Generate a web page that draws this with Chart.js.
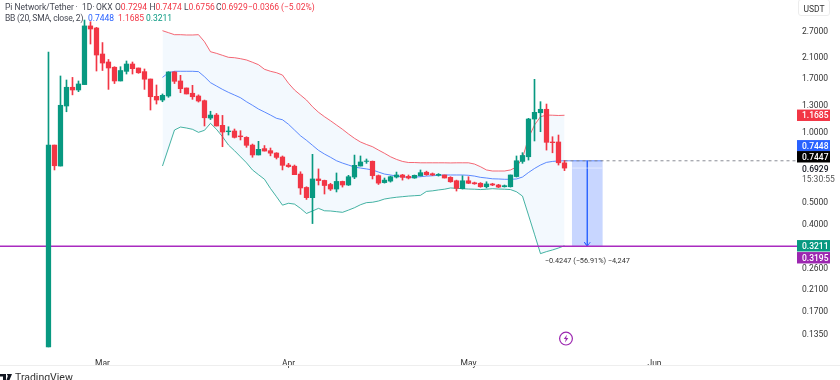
<!DOCTYPE html>
<html>
<head>
<meta charset="utf-8">
<title>Pi Network/Tether</title>
<script src="https://cdn.jsdelivr.net/npm/chart.js@4/dist/chart.umd.js"></script>
<style>
    html, body { margin: 0; padding: 0; background: #fff; overflow: hidden; width: 840px; height: 380px; }
    #wrap { position: relative; width: 840px; height: 380px; overflow: hidden; font-family: Roboto, sans-serif; filter: blur(0.3px); }
    canvas { position: absolute; left: 0; top: 0; }
    .t { position: absolute; font-size: 8.5px; line-height: 11px; white-space: pre; color: #434651; }
    .red { color: #f23645; }
    .blue { color: #2962ff; }
    .teal { color: #089981; }
    #unit { position: absolute; left: 798px; top: -1px; width: 32px; height: 17px; box-sizing: border-box; border: 1px solid #ececec; border-radius: 3px; text-align: center; font-size: 8.5px; line-height: 18px; color: #333; }
    #base { position: absolute; left: 0; top: 365px; width: 840px; height: 1px; background: #eeeeee; }
    #brand { position: absolute; left: 15px; top: 372px; font-size: 10.5px; line-height: 12px; color: #333; }
    #logo { position: absolute; left: 0; top: 374px; }
    #bolt { position: absolute; left: 558px; top: 330px; }
</style>
</head>
<body>
<div id="wrap">
    <canvas id="chart" width="840" height="380"></canvas>
    <div class="t" style="left:5px;top:1.5px">Pi Network/Tether</div>
    <div class="t" style="left:75.5px;top:1.5px">·</div>
    <div class="t" style="left:82px;top:1.5px">1D</div>
    <div class="t" style="left:92.5px;top:1.5px">·</div>
    <div class="t" style="left:96px;top:1.5px">OKX</div>
    <div class="t" style="left:115px;top:1.5px">O<span class="red">0.7294</span></div>
    <div class="t" style="left:149.5px;top:1.5px">H<span class="red">0.7474</span></div>
    <div class="t" style="left:184px;top:1.5px">L<span class="red">0.6756</span></div>
    <div class="t" style="left:216px;top:1.5px">C<span class="red">0.6929</span></div>
    <div class="t red" style="left:248px;top:1.5px">−0.0366 (−5.02%)</div>
    <div class="t" style="left:5px;top:13px;letter-spacing:-0.2px">BB (20, SMA, close, 2)</div>
    <div class="t blue" style="left:88px;top:13px">0.7448</div>
    <div class="t red" style="left:118px;top:13px">1.1685</div>
    <div class="t teal" style="left:146px;top:13px">0.3211</div>
    <div id="unit">USDT</div>
    <div id="base"></div>
    <svg id="logo" width="13" height="8"><path d="M0 0h6v6H3V2.5H0zM8.5 0H12L9.5 6H6.5z M7 0.5a1.1 1.1 0 1 1 0 .1z" fill="#131722"/></svg>
    <div id="brand">TradingView</div>
    <svg id="bolt" width="16" height="17"><circle cx="8" cy="8.6" r="6.4" fill="#fff" stroke="#9c27b0" stroke-width="1.2"/><path d="M8.9 4.8 5.8 9h2l-.8 3.4L10.3 8H8.2z" fill="#9c27b0"/></svg>
</div>
<script>
// daily candles, index 0 is the first OKX session (20 Feb)
const open = [0.118, 0.870, 0.707, 1.281, 1.542, 1.501, 1.583, 2.83, 2.772, 2.143,
    1.98, 1.88, 1.641, 1.805, 1.941, 1.866, 1.80, 1.673, 1.41, 1.359,
    1.414, 1.794, 1.641, 1.531, 1.453, 1.414, 1.35, 1.137, 1.171, 1.058,
    0.993, 1.00, 0.952, 0.939, 0.870, 0.789, 0.84, 0.823, 0.804, 0.773,
    0.714, 0.706, 0.653, 0.572, 0.517, 0.622, 0.613, 0.589, 0.563, 0.607,
    0.586, 0.634, 0.707, 0.74, 0.741, 0.643, 0.60, 0.609, 0.634, 0.647,
    0.638, 0.628, 0.642, 0.665, 0.655, 0.645, 0.647, 0.632, 0.611, 0.565,
    0.611, 0.599, 0.596, 0.576, 0.592, 0.586, 0.576, 0.576, 0.637, 0.74,
    0.775, 1.126, 1.198, 1.24, 0.897, 0.897, 0.7294];
const high = [2.186, 0.870, 1.724, 1.657, 1.70, 1.641, 3.00, 2.95, 2.79, 2.40,
    2.03, 1.89, 1.89, 2.00, 1.98, 1.866, 1.848, 1.673, 1.577, 1.443,
    1.80, 1.80, 1.735, 1.531, 1.572, 1.43, 1.359, 1.216, 1.19, 1.167,
    1.043, 1.02, 1.003, 0.945, 0.879, 0.903, 0.866, 0.845, 0.807, 0.781,
    0.726, 0.714, 0.668, 0.576, 0.794, 0.687, 0.615, 0.596, 0.66, 0.609,
    0.645, 0.788, 0.781, 0.758, 0.743, 0.647, 0.628, 0.64, 0.666, 0.651,
    0.647, 0.647, 0.68, 0.672, 0.66, 0.656, 0.647, 0.636, 0.615, 0.642,
    0.636, 0.603, 0.60, 0.605, 0.596, 0.59, 0.586, 0.647, 0.781, 0.807,
    1.134, 1.668, 1.337, 1.306, 0.945, 0.961, 0.7474];
const low = [0.118, 0.680, 0.707, 1.21, 1.43, 1.476, 1.583, 2.366, 1.811, 1.82,
    1.51, 1.60, 1.641, 1.758, 1.758, 1.77, 1.51, 1.231, 1.306, 1.336,
    1.396, 1.60, 1.461, 1.443, 1.368, 1.332, 1.051, 1.12, 1.051, 0.856,
    0.961, 0.933, 0.915, 0.851, 0.771, 0.789, 0.82, 0.782, 0.758, 0.68,
    0.698, 0.649, 0.534, 0.508, 0.40, 0.586, 0.536, 0.555, 0.547, 0.574,
    0.583, 0.624, 0.707, 0.726, 0.622, 0.589, 0.597, 0.603, 0.628, 0.615,
    0.622, 0.626, 0.64, 0.645, 0.643, 0.64, 0.628, 0.602, 0.552, 0.563,
    0.594, 0.59, 0.573, 0.569, 0.582, 0.571, 0.574, 0.574, 0.634, 0.726,
    0.75, 0.906, 0.993, 0.828, 0.806, 0.714, 0.6756];
const close = [0.870, 0.709, 1.29, 1.542, 1.501, 1.593, 2.83, 2.745, 2.122, 1.96,
    1.866, 1.641, 1.82, 1.941, 1.853, 1.78, 1.67, 1.404, 1.359, 1.424,
    1.794, 1.636, 1.52, 1.443, 1.404, 1.346, 1.14, 1.171, 1.051, 0.99,
    1.00, 0.939, 0.945, 0.868, 0.789, 0.834, 0.82, 0.803, 0.77, 0.712,
    0.703, 0.649, 0.569, 0.517, 0.622, 0.612, 0.583, 0.563, 0.607, 0.586,
    0.636, 0.712, 0.736, 0.743, 0.643, 0.597, 0.615, 0.636, 0.647, 0.632,
    0.628, 0.645, 0.662, 0.649, 0.647, 0.651, 0.628, 0.605, 0.567, 0.611,
    0.596, 0.593, 0.576, 0.592, 0.586, 0.574, 0.582, 0.647, 0.745, 0.785,
    1.126, 1.203, 1.24, 0.894, 0.891, 0.73, 0.6929];

// Bollinger bands, these start at candle 19
const bbStart = 19;
const bbUpper = [2.70, 2.647, 2.595, 2.595, 2.587, 2.587, 2.595, 2.42, 2.192, 2.157,
    2.115, 2.074, 2.066, 2.046, 2.02, 1.975, 1.928, 1.842, 1.806, 1.781,
    1.74, 1.604, 1.501, 1.428, 1.359, 1.272, 1.204, 1.152, 1.107, 1.061,
    1.017, 0.971, 0.93, 0.897, 0.875, 0.856, 0.828, 0.802, 0.775, 0.755,
    0.74, 0.732, 0.732, 0.73, 0.73, 0.73, 0.73, 0.73, 0.729, 0.73,
    0.73, 0.73, 0.721, 0.702, 0.68, 0.673, 0.673, 0.673, 0.68, 0.70,
    0.765, 0.933, 1.061, 1.152, 1.171, 1.169, 1.166, 1.1685];
const bbBasis = [1.70, 1.781, 1.806, 1.806, 1.806, 1.806, 1.80, 1.712, 1.614, 1.561,
    1.51, 1.466, 1.428, 1.39, 1.336, 1.29, 1.243, 1.207, 1.171, 1.134,
    1.118, 1.069, 1.01, 0.954, 0.912, 0.868, 0.826, 0.796, 0.771, 0.745,
    0.728, 0.714, 0.70, 0.693, 0.687, 0.68, 0.666, 0.653, 0.647, 0.64,
    0.636, 0.632, 0.634, 0.636, 0.64, 0.642, 0.645, 0.647, 0.647, 0.647,
    0.647, 0.645, 0.64, 0.632, 0.628, 0.623, 0.622, 0.62, 0.62, 0.622,
    0.634, 0.663, 0.69, 0.714, 0.733, 0.74, 0.7435, 0.7448];
const bbLower = [0.707, 0.845, 1.01, 1.04, 1.03, 1.017, 0.987, 1.007, 1.079, 1.017,
    0.945, 0.870, 0.823, 0.775, 0.73, 0.68, 0.649, 0.62, 0.566, 0.522,
    0.48, 0.489, 0.485, 0.465, 0.442, 0.453, 0.465, 0.454, 0.453, 0.45,
    0.447, 0.457, 0.468, 0.482, 0.492, 0.494, 0.50, 0.51, 0.515, 0.519,
    0.522, 0.525, 0.527, 0.529, 0.55, 0.553, 0.558, 0.562, 0.569, 0.567,
    0.565, 0.563, 0.562, 0.56, 0.562, 0.565, 0.563, 0.562, 0.56, 0.548,
    0.525, 0.435, 0.36, 0.297, 0.303, 0.308, 0.314, 0.3211];

// axis labels
const priceTicks = [2.7, 2.1, 1.7, 1.3, 1.0, 0.5, 0.4, 0.26, 0.21, 0.17, 0.135];
const monthTicks = [9, 40, 70, 101];
const monthLabels = ['Mar', 'Apr', 'May', 'Jun'];

// price tool and lines
const supportPrice = 0.3195;
const lastPrice = 0.7447;
const closePrice = 0.6929;
const measureDay = 89.8;
const measureEdges = [87.3, 92.3];
const measureLabel = '−0.4247 (−56.91%) −4,247';
const arrowWing = 0.333;

const tagPrices = [1.1685, 0.7448, 0.7447, 0.3211, 0.3195];
const tagColors = ['#f23645', '#2962ff', '#000000', '#089981', '#9c27b0'];
const tagNudge = [0, -15, -4, 0, 11.5]; // tags get pushed apart so they don't overlap

const UP = '#089981';
const DOWN = '#f23645';
const candleColors = close.map((c, i) => (c >= open[i] ? UP : DOWN));
const days = close.map((_, i) => i);
const FONT = 'Roboto, sans-serif';

const bandPoints = (vals) => vals.map((y, k) => ({ x: k + bbStart, y }));

function lineSet(points, color, order, extra) {
    return Object.assign({
        type: 'line',
        data: points,
        borderColor: color,
        borderWidth: 1,
        pointRadius: 0,
        tension: 0,
        fill: false,
        order
    }, extra);
}

// the axes must not eat into the plot with half a label of padding
function noPadding(scale) {
    scale.paddingTop = 0;
    scale.paddingBottom = 0;
    scale.paddingLeft = 0;
    scale.paddingRight = 0;
}

const priceTags = {
    id: 'priceTags',
    afterDraw(chart) {
        const c = chart.ctx;
        const y = chart.scales.y;
        c.save();
        c.textBaseline = 'middle';
        c.textAlign = 'left';
        c.font = `500 8.5px ${FONT}`;
        tagPrices.forEach((p, i) => {
            const py = y.getPixelForValue(p) + tagNudge[i];
            c.fillStyle = tagColors[i];
            c.fillRect(797, py - 5.7, 33, 11.4);
            c.fillStyle = '#fff';
            c.fillText(p.toFixed(4), 802, py + 1);
        });
        c.fillStyle = '#131722';
        c.fillText(closePrice.toFixed(4), 802, y.getPixelForValue(closePrice) + 1.5);
        c.font = `8.5px ${FONT}`;
        c.fillStyle = '#555';
        c.fillText('15:30:55', 802, y.getPixelForValue(closePrice) + 11.5);
        c.font = `7.3px ${FONT}`;
        c.fillStyle = '#333';
        c.textAlign = 'center';
        c.fillText(measureLabel, chart.scales.x.getPixelForValue(measureDay), y.getPixelForValue(supportPrice) + 14.5);
        c.restore();
    }
};

new Chart(document.getElementById('chart'), {
    type: 'bar',
    data: {
        datasets: [
            lineSet(bandPoints(bbUpper), 'rgba(242,54,69,0.75)', 3, {
                fill: { target: 2 },
                backgroundColor: 'rgba(33,150,243,0.055)'
            }),
            lineSet(bandPoints(bbBasis), 'rgba(41,98,255,0.75)', 3),
            lineSet(bandPoints(bbLower), 'rgba(8,153,129,0.75)', 3),
            {
                label: 'wicks',
                data: days.map((i) => ({ x: i, y: [low[i], high[i]] })),
                backgroundColor: candleColors,
                barThickness: 1,
                grouped: false,
                order: 1
            },
            {
                label: 'bodies',
                data: days.map((i) => ({ x: i, y: [open[i], close[i]] })),
                backgroundColor: candleColors,
                barThickness: 4.6,
                grouped: false,
                order: 0
            },
            {
                label: 'measure',
                data: [{ x: measureDay, y: [supportPrice, lastPrice] }],
                backgroundColor: 'rgba(41,98,255,0.26)',
                barThickness: 30,
                grouped: false,
                order: 5
            },
            lineSet([{ x: measureEdges[0], y: closePrice }, { x: measureEdges[1], y: closePrice }], 'rgba(255,255,255,0.5)', 4),
            lineSet([{ x: 86, y: lastPrice }, { x: 124.8, y: lastPrice }], '#8a8d96', 4, { borderDash: [3, 3] }),
            lineSet([{ x: 86, y: lastPrice }, { x: measureEdges[1], y: lastPrice }], 'rgba(41,98,255,0.7)', 4),
            lineSet([
                { x: measureDay, y: lastPrice },
                { x: measureDay, y: supportPrice },
                { x: measureDay - 0.5, y: arrowWing },
                { x: measureDay, y: supportPrice },
                { x: measureDay + 0.5, y: arrowWing }
            ], 'rgba(41,98,255,0.85)', 4),
            lineSet([{ x: -8.08, y: supportPrice }, { x: 124.8, y: supportPrice }], '#a92bc0', 2, { borderWidth: 1.4 })
        ]
    },
    options: {
        responsive: false,
        animation: false,
        events: [],
        plugins: {
            legend: { display: false },
            tooltip: { enabled: false }
        },
        scales: {
            x: {
                type: 'linear',
                offset: false,
                min: -8.08,
                max: 124.75,
                grid: { display: false },
                border: { display: false },
                afterFit(scale) { scale.height = 32; noPadding(scale); },
                afterBuildTicks(scale) { scale.ticks = monthTicks.map((v) => ({ value: v })); },
                ticks: {
                    autoSkip: false,
                    maxRotation: 0,
                    padding: 3,
                    color: '#333',
                    font: { family: FONT, size: 8.5 },
                    callback: (v) => monthLabels[monthTicks.indexOf(v)]
                }
            },
            y: {
                type: 'logarithmic',
                position: 'right',
                min: 0.1167,
                max: 3.658,
                grid: { display: false, drawTicks: false },
                border: { display: false },
                afterFit(scale) { scale.width = 43; noPadding(scale); },
                afterBuildTicks(scale) { scale.ticks = priceTicks.map((v) => ({ value: v })); },
                ticks: {
                    autoSkip: false,
                    padding: 5,
                    labelOffset: 1.5,
                    color: '#333',
                    font: { family: FONT, size: 8.5 },
                    callback: (v) => Number(v).toFixed(4)
                }
            }
        }
    },
    plugins: [priceTags]
});
</script>
</body>
</html>
